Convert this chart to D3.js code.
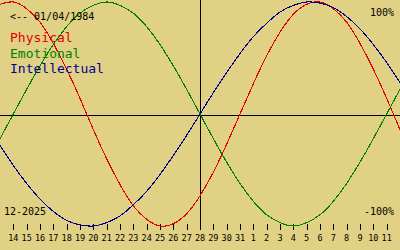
<!DOCTYPE html>
<html>
<head>
<meta charset="utf-8">
<script src="https://cdn.jsdelivr.net/npm/d3@7"></script>
<style>
  html, body { margin: 0; padding: 0; background: #e0d184; }
  svg { display: block; }
  text { font-family: "DejaVu Sans Mono", monospace; }
</style>
</head>
<body>
<div id="chart"></div>
<script>
const WIDTH = 400;
const HEIGHT = 250;

const BIRTH_LABEL = "<-- 01/04/1984";
const MONTH_LABEL = "12-2025";

// day offsets from the centre day (28 Dec)
const OFFSETS = d3.range(-15, 16);

// values read per day, -15 .. +15
const PHYSICAL = [0.98, 1.00, 0.94, 0.82, 0.63, 0.40, 0.14, -0.14, -0.40, -0.63, -0.82, -0.94, -1.00, -0.98, -0.89,
  -0.73, -0.52, -0.27, 0.00, 0.27, 0.52, 0.73, 0.89, 0.98, 1.00, 0.94, 0.82, 0.63, 0.40, 0.14, -0.14];
const EMOTIONAL = [-0.22, 0.00, 0.22, 0.43, 0.62, 0.78, 0.90, 0.97, 1.00, 0.97, 0.90, 0.78, 0.62, 0.43, 0.22,
  0.00, -0.22, -0.43, -0.62, -0.78, -0.90, -0.97, -1.00, -0.97, -0.90, -0.78, -0.62, -0.43, -0.22, 0.00, 0.22];
const INTELLECTUAL = [-0.28, -0.46, -0.62, -0.76, -0.87, -0.95, -0.99, -1.00, -0.97, -0.91, -0.81, -0.69, -0.54, -0.37, -0.19,
  0.00, 0.19, 0.37, 0.54, 0.69, 0.81, 0.91, 0.97, 1.00, 0.99, 0.95, 0.87, 0.76, 0.62, 0.46, 0.28];

const SERIES = [
  { name: "Physical", color: "#e00000", values: PHYSICAL },
  { name: "Emotional", color: "#008000", values: EMOTIONAL },
  { name: "Intellectual", color: "#000090", values: INTELLECTUAL }
];

const TICK_OFFSETS = d3.range(-14, 15);
const TICK_LABELS = ["14", "15", "16", "17", "18", "19", "20", "21", "22", "23", "24", "25", "26", "27", "28",
  "29", "30", "31", "1", "2", "3", "4", "5", "6", "7", "8", "9", "10", "11"];

const x = d3.scaleLinear().domain([-15, 15]).range([0, WIDTH]);
const y = d3.scaleLinear().domain([-1, 1]).range([226, 2]);

const svg = d3.select("#chart")
              .append("svg")
              .attr("width", WIDTH)
              .attr("height", HEIGHT);

svg.append("rect")
   .attr("width", WIDTH)
   .attr("height", HEIGHT)
   .attr("fill", "#e0d184");

// zero line and today line
svg.append("line")
   .attr("x1", 0).attr("x2", WIDTH)
   .attr("y1", 115.5).attr("y2", 115.5)
   .attr("stroke", "#000")
   .attr("shape-rendering", "crispEdges");

svg.append("line")
   .attr("x1", Math.round(x(0)) + 0.5).attr("x2", Math.round(x(0)) + 0.5)
   .attr("y1", 0).attr("y2", 230)
   .attr("stroke", "#000")
   .attr("shape-rendering", "crispEdges");

// day ticks
const ticks = svg.append("g");
ticks.selectAll("line")
     .data(TICK_OFFSETS)
     .join("line")
     .attr("x1", d => Math.round(x(d)) + 0.5)
     .attr("x2", d => Math.round(x(d)) + 0.5)
     .attr("y1", 224)
     .attr("y2", 230)
     .attr("stroke", "#000")
     .attr("shape-rendering", "crispEdges");

ticks.selectAll("text")
     .data(TICK_OFFSETS)
     .join("text")
     .attr("x", d => x(d))
     .attr("y", 241)
     .attr("text-anchor", "middle")
     .attr("font-size", "8.5px")
     .attr("fill", "#000")
     .text((d, i) => TICK_LABELS[i]);

// curves
const line = d3.line()
               .x((d, i) => x(OFFSETS[i]))
               .y(d => y(d))
               .curve(d3.curveNatural);

svg.selectAll(".curve")
   .data(SERIES)
   .join("path")
   .attr("class", "curve")
   .attr("d", d => line(d.values))
   .attr("fill", "none")
   .attr("stroke", d => d.color)
   .attr("stroke-width", 1.1)
   .attr("shape-rendering", "crispEdges");

// labels
svg.append("text")
   .attr("x", 10).attr("y", 20)
   .attr("font-size", "10px")
   .attr("fill", "#000")
   .text(BIRTH_LABEL);

svg.selectAll(".legend")
   .data(SERIES)
   .join("text")
   .attr("class", "legend")
   .attr("x", 10)
   .attr("y", (d, i) => 42 + i * 15.5)
   .attr("font-size", "13px")
   .attr("fill", d => d.color)
   .text(d => d.name);

svg.append("text")
   .attr("x", 394).attr("y", 16)
   .attr("text-anchor", "end")
   .attr("font-size", "10px")
   .text("100%");

svg.append("text")
   .attr("x", 394).attr("y", 215)
   .attr("text-anchor", "end")
   .attr("font-size", "10px")
   .text("-100%");

svg.append("text")
   .attr("x", 4).attr("y", 215)
   .attr("font-size", "10px")
   .text(MONTH_LABEL);
</script>
</body>
</html>
